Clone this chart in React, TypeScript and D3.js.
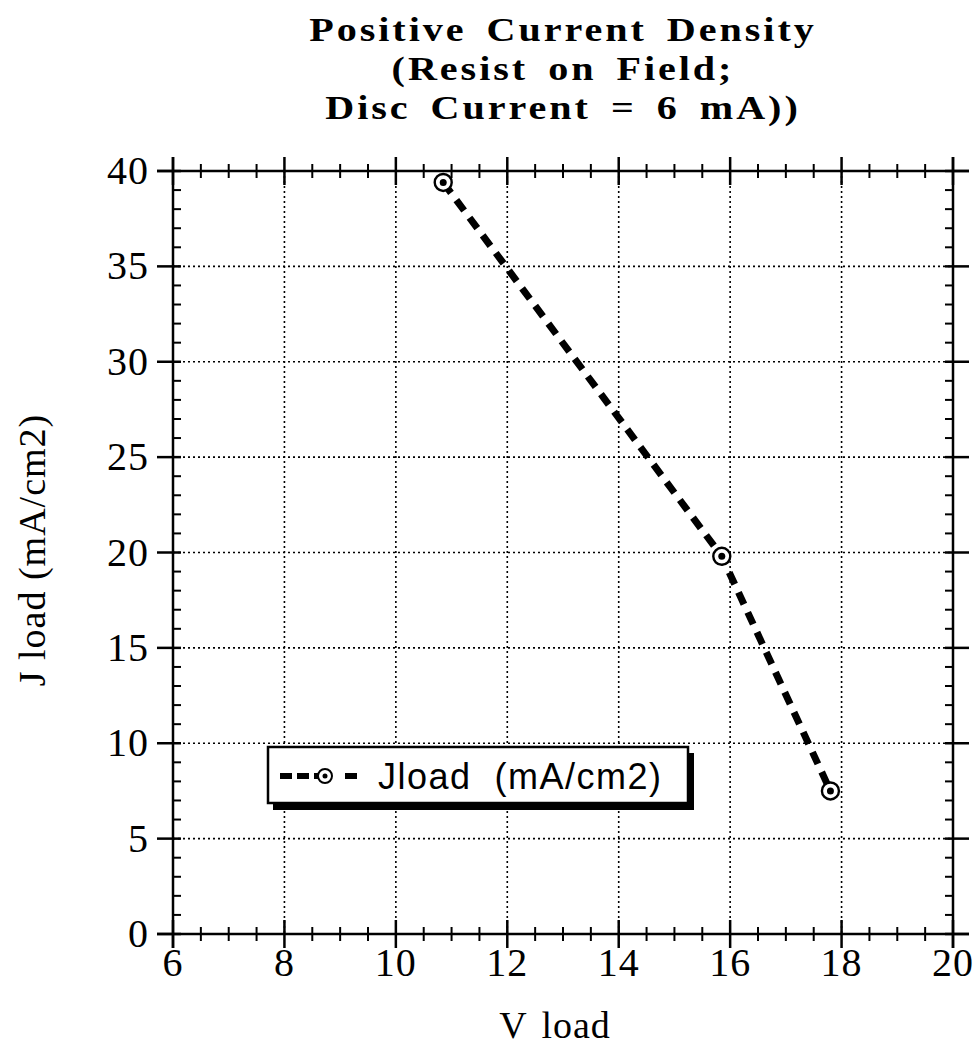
import React, { useEffect, useRef } from "react";
import * as d3 from "d3";

const vLoad = [10.85, 15.85, 17.8];
const jLoad = [39.4, 19.8, 7.5];
const xTicks = [6, 8, 10, 12, 14, 16, 18, 20];
const yTicks = [0, 5, 10, 15, 20, 25, 30, 35, 40];
const titleLines = ["Positive Current Density", "(Resist on Field;", "Disc Current = 6 mA))"];
const legendLabel = "Jload  (mA/cm2)";

const W = 980;
const H = 1048;
const m = { left: 173, right: 953, top: 171, bottom: 934 };

const App = () => {
  const ref = useRef<SVGSVGElement>(null);

  useEffect(() => {
    const svg = d3.select(ref.current);
    svg.selectAll("*").remove();

    const x = d3.scaleLinear().domain([6, 20]).range([m.left, m.right]);
    const y = d3.scaleLinear().domain([0, 40]).range([m.bottom, m.top]);
    const serif = "'Liberation Serif', 'Times New Roman', serif";

    // grid
    const grid = svg.append("g").attr("stroke", "#000").attr("stroke-width", 1.6)
      .attr("stroke-dasharray", "2,3");
    xTicks.slice(1, -1).forEach(t => {
      grid.append("line").attr("x1", x(t)).attr("x2", x(t)).attr("y1", m.top).attr("y2", m.bottom);
    });
    yTicks.slice(1, -1).forEach(t => {
      grid.append("line").attr("y1", y(t)).attr("y2", y(t)).attr("x1", m.left).attr("x2", m.right);
    });

    // frame
    const frame = svg.append("g").attr("stroke", "#000").attr("stroke-width", 2.5);
    frame.append("line").attr("x1", m.left - 16).attr("x2", m.right + 16).attr("y1", m.top).attr("y2", m.top);
    frame.append("line").attr("x1", m.left - 16).attr("x2", m.right + 16).attr("y1", m.bottom).attr("y2", m.bottom);
    frame.append("line").attr("x1", m.left).attr("x2", m.left).attr("y1", m.top - 14).attr("y2", m.bottom + 14);
    frame.append("line").attr("x1", m.right).attr("x2", m.right).attr("y1", m.top - 14).attr("y2", m.bottom + 14);

    // x minor ticks (cross), every 0.5
    d3.range(6, 20.01, 0.5).forEach(t => {
      if (xTicks.includes(t)) return;
      [m.top, m.bottom].forEach(yy => {
        frame.append("line").attr("x1", x(t)).attr("x2", x(t)).attr("y1", yy - 7).attr("y2", yy + 7).attr("stroke-width", 2);
      });
    });
    xTicks.forEach(t => {
      [m.top, m.bottom].forEach(yy => {
        frame.append("line").attr("x1", x(t)).attr("x2", x(t)).attr("y1", yy - 14).attr("y2", yy + 14);
      });
    });
    // y minor ticks (inward), every 1
    d3.range(0, 41, 1).forEach(t => {
      if (yTicks.includes(t)) return;
      frame.append("line").attr("x1", m.left).attr("x2", m.left + 8).attr("y1", y(t)).attr("y2", y(t)).attr("stroke-width", 2);
      frame.append("line").attr("x1", m.right).attr("x2", m.right - 8).attr("y1", y(t)).attr("y2", y(t)).attr("stroke-width", 2);
    });
    yTicks.forEach(t => {
      frame.append("line").attr("x1", m.left - 16).attr("x2", m.left + 8).attr("y1", y(t)).attr("y2", y(t));
      frame.append("line").attr("x1", m.right - 8).attr("x2", m.right + 16).attr("y1", y(t)).attr("y2", y(t));
    });

    // tick labels
    svg.append("g").selectAll("text").data(xTicks).join("text")
      .attr("x", d => x(d)).attr("y", m.bottom + 42)
      .attr("text-anchor", "middle").attr("font-family", serif).attr("font-size", 40)
      .attr("letter-spacing", 1).text(d => d);
    svg.append("g").selectAll("text").data(yTicks).join("text")
      .attr("x", m.left - 24).attr("y", d => y(d) + 13)
      .attr("text-anchor", "end").attr("font-family", serif).attr("font-size", 40)
      .attr("letter-spacing", 1).text(d => d);

    // axis titles
    svg.append("text").attr("x", 555).attr("y", 1038)
      .attr("text-anchor", "middle").attr("font-family", serif).attr("font-size", 38)
      .attr("letter-spacing", 1).attr("word-spacing", 4).text("V load");
    svg.append("text").attr("transform", `translate(45,550) rotate(-90)`)
      .attr("text-anchor", "middle").attr("font-family", serif).attr("font-size", 38)
      .attr("letter-spacing", 1).text("J load (mA/cm2)");

    // title (wide bold serif)
    svg.append("g").selectAll("text").data(titleLines).join("text")
      .attr("transform", (d, i) => `translate(563,${41 + i * 39}) scale(1.18,1)`)
      .attr("text-anchor", "middle").attr("font-family", serif).attr("font-weight", "bold")
      .attr("font-size", 34).attr("letter-spacing", 2.5).attr("word-spacing", 6).text(d => d);

    // data line
    const pts = vLoad.map((v, i) => [v, jLoad[i]] as [number, number]);
    const line = d3.line<[number, number]>().x(d => x(d[0])).y(d => y(d[1]));
    svg.append("path").attr("d", line(pts)).attr("fill", "none").attr("stroke", "#000")
      .attr("stroke-width", 7).attr("stroke-dasharray", "13,9");
    const mk = svg.append("g").selectAll("g").data(pts).join("g")
      .attr("transform", d => `translate(${x(d[0])},${y(d[1])})`);
    mk.append("circle").attr("r", 8.5).attr("fill", "#fff").attr("stroke", "#000").attr("stroke-width", 2.4);
    mk.append("circle").attr("r", 3.5).attr("fill", "#000");

    // legend
    const lg = svg.append("g").attr("transform", "translate(268,747)");
    lg.append("rect").attr("x", 5).attr("y", 6).attr("width", 421).attr("height", 57).attr("fill", "#000");
    lg.append("rect").attr("x", 0).attr("y", 0).attr("width", 420).attr("height", 56)
      .attr("fill", "#fff").attr("stroke", "#000").attr("stroke-width", 2.5);
    lg.append("line").attr("x1", 12).attr("x2", 50).attr("y1", 29).attr("y2", 29)
      .attr("stroke", "#000").attr("stroke-width", 6).attr("stroke-dasharray", "12,5");
    lg.append("line").attr("x1", 77).attr("x2", 89).attr("y1", 29).attr("y2", 29)
      .attr("stroke", "#000").attr("stroke-width", 6);
    lg.append("line").attr("x1", 50).attr("x2", 56).attr("y1", 29).attr("y2", 29)
      .attr("stroke", "#000").attr("stroke-width", 2);
    lg.append("circle").attr("cx", 57).attr("cy", 29).attr("r", 7).attr("fill", "#fff")
      .attr("stroke", "#000").attr("stroke-width", 2);
    lg.append("circle").attr("cx", 57).attr("cy", 29).attr("r", 2.5).attr("fill", "#000");
    lg.append("text").attr("x", 110).attr("y", 42).attr("font-family", "'Liberation Sans', Arial, sans-serif")
      .attr("font-size", 36).attr("letter-spacing", 1.5).style("white-space", "pre").text(legendLabel);
  }, []);

  return (
    <div>
      <svg ref={ref} width={W} height={H} style={{ position: "absolute", left: 0, top: 0, display: "block" }} />
    </div>
  );
};

export default App;
